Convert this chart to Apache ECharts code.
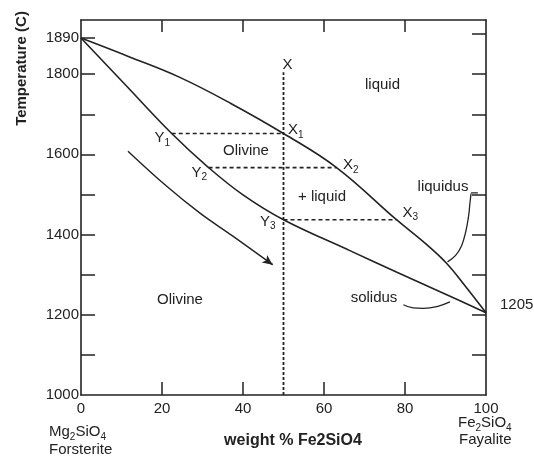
<!DOCTYPE html>
<html><head><meta charset="utf-8">
<script src="https://cdn.jsdelivr.net/npm/echarts@6/dist/echarts.min.js"></script>
<style>html,body{margin:0;padding:0;background:#fff}#c{width:534px;height:458px}</style>
</head><body><div id="c"></div>
<script>
// ---- data ----
const xLabelValues = [0, 20, 40, 60, 80, 100];
const xTickValues = [20, 40, 60, 80];
const yLabelValues = [1000, 1200, 1400, 1600, 1800, 1890];
const yTickValues = [1100, 1200, 1300, 1400, 1500, 1600, 1700, 1800, 1890];
const rightTickValues = [1100, 1200, 1300, 1400, 1500, 1600, 1700, 1800, 1900];
const rightLabelValues = [1205];
const liquidus = [[0,1890],[12,1843],[24.4,1792],[37,1727],[50,1652],[63.1,1567],[77.9,1437],[85,1378],[90.3,1328],[95,1270],[100,1205]];
const solidus = [[0,1890],[11,1773],[22.4,1652],[31.5,1567],[40,1499],[50,1437],[66.4,1360],[78,1306],[90.3,1250],[100,1205]];
const composition = 50;
const compositionTop = 1805;
const tieTemps = [1652, 1567, 1437];
const tieSolidX = [22.4, 31.5, 50];
const tieLiquidX = [50, 63.1, 77.9];
const coolingArrow = [[11.6,1608],[21.1,1521],[29.3,1454],[37.5,1396],[47.3,1325]];
const liquidusUnderline = [[96.3,1504],[98.0,1504]];
const liquidusLeader = [[96.3,1502],[96.0,1475],[95.7,1446],[95.0,1407],[94.0,1373],[92.5,1348],[90.5,1332]];
const solidusLeader = [[79.6,1225],[82.0,1217],[84.5,1216],[88.1,1221],[91.1,1232]];

// ---- chart ----
const FF = '"Liberation Sans", Arial, Helvetica, sans-serif';
const INK = '#222';
const chart = echarts.init(document.getElementById('c'));

const axisLine = {onZero:false, lineStyle:{color:INK, width:1.6}};
function tick(len, vals){ return {inside:true, length:len, customValues:vals, lineStyle:{color:INK, width:1.5}}; }
const plain = v => String(v);

const solidStyle = {color:INK, width:1.6};
const dashStyle = {color:INK, width:1.6, type:[4,3]};

const series = [
  {type:'line', data:liquidus, smooth:0.4, symbol:'none', lineStyle:solidStyle, z:3},
  {type:'line', data:solidus, smooth:0.4, symbol:'none', lineStyle:solidStyle, z:3},
  {type:'line', data:[[composition,1000],[composition,compositionTop]], symbol:'none', lineStyle:{color:INK,width:1.8,type:[3,2]}},
];
tieTemps.forEach((t,i)=>{
  series.push({type:'line', data:[[tieSolidX[i],t],[tieLiquidX[i],t]], symbol:'none', lineStyle:dashStyle});
});
const aEnd = coolingArrow[coolingArrow.length-1], aPrev = coolingArrow[coolingArrow.length-2];
const aStart = [aEnd[0] - (aEnd[0]-aPrev[0])*0.1, aEnd[1] - (aEnd[1]-aPrev[1])*0.1];
series.push({type:'line', data:coolingArrow, smooth:0.4, symbol:'none', lineStyle:{color:INK,width:1.4},
  markLine:{silent:true, symbol:['none','arrow'], symbolSize:[7,10], label:{show:false},
    lineStyle:{color:INK,width:1.4,type:'solid'}, data:[[{coord:aStart},{coord:aEnd}]]}});
series.push({type:'line', data:liquidusUnderline, symbol:'none', lineStyle:{color:INK,width:1.3}});
series.push({type:'line', data:liquidusLeader, smooth:0.4, symbol:'none', lineStyle:{color:INK,width:1.3}});
series.push({type:'line', data:solidusLeader, smooth:0.4, symbol:'none', lineStyle:{color:INK,width:1.3}});

function txt(x, y, text, extra){
  return {type:'text', x:x, y:y, style:Object.assign({text:text, font:'15px '+FF, fill:INK, align:'center', verticalAlign:'middle'}, extra||{})};
}
const subRich = {m:{fontSize:15, fontFamily:FF, lineHeight:20, verticalAlign:'middle'}, s:{fontSize:10, fontFamily:FF, lineHeight:10, verticalAlign:'bottom'}};
function subTxt(x, y, text){
  return {type:'text', x:x, y:y, style:{text:text, rich:subRich, fill:INK, align:'left', verticalAlign:'middle'}};
}

const graphic = [
  txt(382.5, 85, 'liquid'),
  txt(246, 151, 'Olivine'),
  txt(322, 196.5, '+ liquid'),
  txt(180, 300, 'Olivine'),
  txt(443, 187, 'liquidus'),
  txt(374, 297.5, 'solidus'),
  txt(287.5, 65, 'X'),
  subTxt(288, 130, '{m|X}{s|1}'),
  subTxt(343, 165, '{m|X}{s|2}'),
  subTxt(402.5, 212.5, '{m|X}{s|3}'),
  subTxt(154.5, 138, '{m|Y}{s|1}'),
  subTxt(191.5, 172.5, '{m|Y}{s|2}'),
  subTxt(260, 221.5, '{m|Y}{s|3}'),
  subTxt(49, 432, '{m|Mg}{s|2}{m|SiO}{s|4}'),
  txt(49, 450, 'Forsterite', {align:'left'}),
  subTxt(458, 423, '{m|Fe}{s|2}{m|SiO}{s|4}'),
  txt(459, 440, 'Fayalite', {align:'left'}),
  txt(293, 441, 'weight % Fe2SiO4', {font:'bold 16px '+FF}),
  {type:'text', x:21.5, y:68.5, rotation:Math.PI/2, style:{text:'Temperature (C)', font:'bold 15px '+FF, fill:INK, align:'center', verticalAlign:'middle'}}
];

chart.setOption({
  animation:false,
  backgroundColor:'#fff',
  grid:{left:81, right:48, top:20, bottom:63, containLabel:false, outerBoundsMode:'none'},
  xAxis:[
    {type:'value', position:'bottom', min:0, max:100, axisLine:axisLine, axisTick:tick(13, xTickValues),
     axisLabel:{customValues:xLabelValues, formatter:plain, margin:6, fontSize:15, color:INK, fontFamily:FF}, splitLine:{show:false}},
    {type:'value', position:'top', min:0, max:100, axisLine:axisLine, axisTick:tick(12, xTickValues),
     axisLabel:{show:false}, splitLine:{show:false}}
  ],
  yAxis:[
    {type:'value', position:'left', min:1000, max:1935, axisLine:axisLine, axisTick:tick(14, yTickValues),
     axisLabel:{customValues:yLabelValues, formatter:plain, margin:2, fontSize:15, color:INK, fontFamily:FF}, splitLine:{show:false}},
    {type:'value', position:'right', min:1000, max:1935, axisLine:axisLine, axisTick:tick(14, rightTickValues),
     axisLabel:{customValues:rightLabelValues, formatter:plain, margin:14, fontSize:15, color:INK, fontFamily:FF, verticalAlign:'bottom'}, splitLine:{show:false}}
  ],
  graphic:graphic,
  series:series
});
</script></body></html>
